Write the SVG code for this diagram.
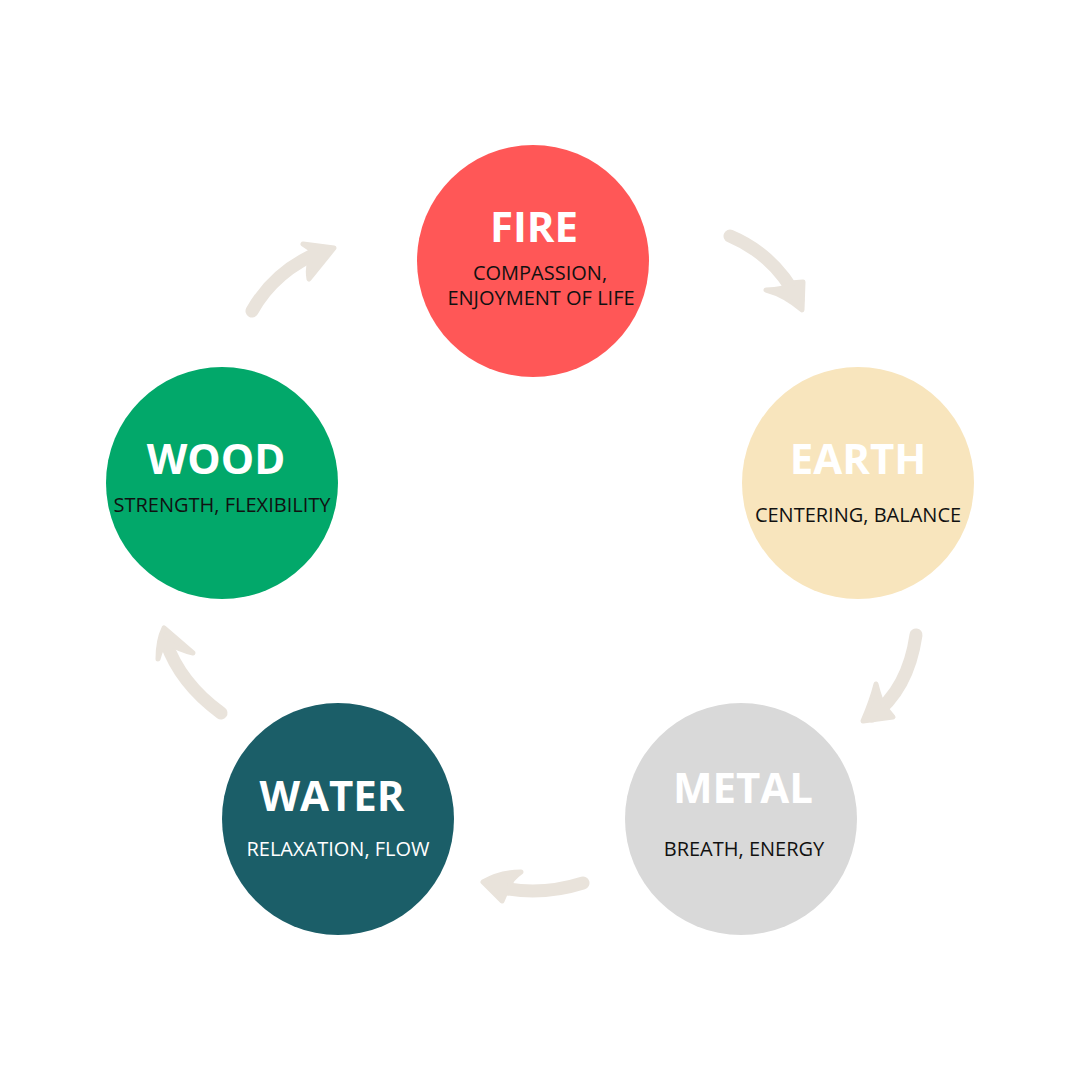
<svg xmlns="http://www.w3.org/2000/svg" width="1080" height="1080" viewBox="0 0 1080 1080">
<style>
.title{font-family:"Open Sans","Liberation Sans",sans-serif;font-weight:700;font-size:42px;fill:#ffffff;text-anchor:middle}
.sub{font-family:"Open Sans","Liberation Sans",sans-serif;font-size:20px;fill:#111111;text-anchor:middle}
.shaft{fill:none;stroke:#e9e3db;stroke-width:13;stroke-linecap:round}
.head{fill:#e9e3db;stroke:#e9e3db;stroke-width:5;stroke-linejoin:round}
</style>
<rect width="1080" height="1080" fill="#ffffff"/>
<g id="connectors">
  <path class="shaft" d="M252,311 Q275,270 322,251"/>
  <path class="head" d="M303,244 L334,248 L309,279 Q306,262 316,254 Q310,248 303,244 Z"/>
  <path class="shaft" d="M730,236 Q775,255 798,300"/>
  <path class="head" d="M766,290 Q785,290 790,283 L803,282 L802,310 Q785,295 766,290 Z"/>
  <path class="shaft" d="M916,635 Q908,690 872,716"/>
  <path class="head" d="M876,684 Q880,700 884,706 L893,717 L863,721 Q872,700 876,684 Z"/>
  <path class="shaft" d="M583,883 Q545,895 508,889"/>
  <path class="head" d="M521,872 Q510,880 510,886 Q505,893 502,901 L483,882 Q500,872 521,872 Z"/>
  <path class="shaft" d="M221,713 Q180,683 166,642"/>
  <path class="head" d="M158,659 Q162,645 166,642 Q180,650 193,653 L164,628 Q158,640 158,659 Z"/>
</g>
<g id="fire">
  <circle cx="533" cy="261" r="116" fill="#ff5757"/>
  <text class="title" x="534" y="242">FIRE</text>
  <text class="sub" x="540" y="280">COMPASSION,</text>
  <text class="sub" x="541" y="305">ENJOYMENT OF LIFE</text>
</g>
<g id="earth">
  <circle cx="858" cy="483" r="116" fill="#f8e5bd"/>
  <text class="title" x="858" y="474">EARTH</text>
  <text class="sub" x="858" y="522">CENTERING, BALANCE</text>
</g>
<g id="wood">
  <circle cx="222" cy="483" r="116" fill="#02a86a"/>
  <text class="title" x="216" y="474">WOOD</text>
  <text class="sub" x="222" y="512">STRENGTH, FLEXIBILITY</text>
</g>
<g id="water">
  <circle cx="338" cy="819" r="116" fill="#1b5e68"/>
  <text class="title" x="332" y="811">WATER</text>
  <text class="sub" x="338" y="856" style="fill:#ffffff">RELAXATION, FLOW</text>
</g>
<g id="metal">
  <circle cx="741" cy="819" r="116" fill="#d9d9d9"/>
  <text class="title" x="743" y="803">METAL</text>
  <text class="sub" x="744" y="856">BREATH, ENERGY</text>
</g>
</svg>
